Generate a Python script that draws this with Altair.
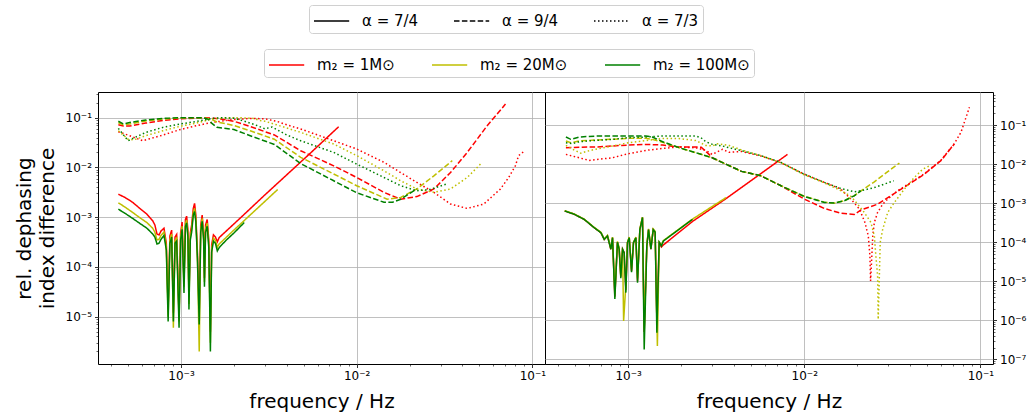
import altair as alt
import pandas as pd

ALPHAS = ["α = 7/4", "α = 9/4", "α = 7/3"]
MASSES = ["m₂ = 1M⊙", "m₂ = 20M⊙", "m₂ = 100M⊙"]
COLORS = ["#ff0000", "#bfbf00", "#008000"]
DASHES = [[1, 0], [5.5, 2.4], [1.5, 2.5]]

# ---------------- left panel ----------------
L_sol_red_f = [4.4e-4, 4.8e-4, 5.3e-4, 5.9e-4, 6.4e-4, 6.9e-4, 7.1e-4, 7.3e-4, 7.5e-4, 7.7e-4, 8.0e-4, 8.25e-4,
               8.45e-4, 8.65e-4, 8.85e-4, 9.05e-4, 9.25e-4, 9.45e-4, 9.75e-4, 9.95e-4, 1.015e-3, 1.04e-3, 1.06e-3,
               1.077e-3, 1.095e-3, 1.11e-3, 1.13e-3, 1.15e-3, 1.175e-3, 1.195e-3, 1.215e-3, 1.24e-3, 1.27e-3,
               1.295e-3, 1.32e-3, 1.345e-3, 1.36e-3, 1.38e-3, 1.41e-3, 1.44e-3, 1.47e-3, 1.495e-3, 1.53e-3, 1.57e-3,
               1.61e-3, 1.65e-3, 2.2e-3, 3.0e-3, 5.5e-3, 7.9e-3]
L_sol_red_y = [2.9e-3, 2.5e-3, 2.0e-3, 1.45e-3, 1.15e-3, 8.5e-4, 7.0e-4, 4.6e-4, 4.4e-4, 5.3e-4, 6.0e-4, 3.0e-4,
               1.5e-5, 4.2e-4, 5.5e-4, 1.2e-5, 4.0e-4, 4.5e-4, 1.0e-5, 4.8e-4, 8.0e-4, 5e-5, 9.0e-4,
               1.05e-3, 5.5e-4, 2.5e-5, 4.8e-4, 7.0e-4, 1.5e-3, 1.9e-3, 1.1e-3, 2.0e-4, 1.2e-5,
               7.0e-4, 1.1e-3, 4.8e-4, 6e-5, 7.0e-4, 9.0e-4, 3.4e-4, 5e-6, 2.8e-4, 4.4e-4, 4.0e-4,
               3.2e-4, 3.9e-4, 1.0e-3, 2.8e-3, 0.02, 0.066]

L_sol_yel_f = [4.4e-4, 4.8e-4, 5.3e-4, 5.9e-4, 6.4e-4, 6.9e-4, 7.1e-4, 7.3e-4, 7.5e-4, 7.7e-4, 8.0e-4, 8.25e-4,
               8.45e-4, 8.65e-4, 8.85e-4, 9.05e-4, 9.25e-4, 9.45e-4, 9.75e-4, 9.95e-4, 1.015e-3, 1.04e-3, 1.06e-3,
               1.077e-3, 1.095e-3, 1.11e-3, 1.13e-3, 1.15e-3, 1.175e-3, 1.195e-3, 1.215e-3, 1.24e-3, 1.27e-3,
               1.295e-3, 1.32e-3, 1.345e-3, 1.36e-3, 1.38e-3, 1.41e-3, 1.44e-3, 1.47e-3, 1.495e-3, 1.53e-3, 1.57e-3,
               1.61e-3, 1.65e-3, 2.0e-3, 2.6e-3, 3.55e-3]
L_sol_yel_y = [1.95e-3, 1.6e-3, 1.25e-3, 9.5e-4, 7.8e-4, 6.0e-4, 5.0e-4, 3.5e-4, 3.6e-4, 4.3e-4, 5.0e-4, 2.6e-4,
               1.0e-5, 3.5e-4, 4.6e-4, 6e-6, 3.4e-4, 3.8e-4, 8e-6, 4.0e-4, 6.6e-4, 4e-5, 7.5e-4,
               8.8e-4, 4.6e-4, 1.8e-5, 4.0e-4, 5.8e-4, 1.25e-3, 1.5e-3, 9.0e-4, 1.7e-4, 2e-6,
               5.8e-4, 9.5e-4, 4.0e-4, 5e-5, 5.8e-4, 7.6e-4, 2.8e-4, 3e-6, 2.3e-4, 3.8e-4, 3.4e-4,
               2.5e-4, 2.9e-4, 5.5e-4, 1.3e-3, 3.6e-3]

L_sol_grn_f = [4.4e-4, 4.8e-4, 5.3e-4, 5.9e-4, 6.4e-4, 6.9e-4, 7.1e-4, 7.3e-4, 7.5e-4, 7.7e-4, 8.0e-4, 8.25e-4,
               8.45e-4, 8.65e-4, 8.85e-4, 9.05e-4, 9.25e-4, 9.45e-4, 9.75e-4, 9.95e-4, 1.015e-3, 1.04e-3, 1.06e-3,
               1.077e-3, 1.095e-3, 1.11e-3, 1.13e-3, 1.15e-3, 1.175e-3, 1.195e-3, 1.215e-3, 1.24e-3, 1.27e-3,
               1.295e-3, 1.32e-3, 1.345e-3, 1.36e-3, 1.38e-3, 1.41e-3, 1.44e-3, 1.47e-3, 1.495e-3, 1.53e-3, 1.57e-3,
               1.61e-3, 1.65e-3, 1.8e-3, 2.0e-3, 2.29e-3]
L_sol_grn_y = [1.45e-3, 1.2e-3, 9.5e-4, 7.3e-4, 6.0e-4, 4.6e-4, 4.0e-4, 2.9e-4, 3.0e-4, 3.6e-4, 4.3e-4, 2.2e-4,
               8e-6, 3.0e-4, 4.0e-4, 8e-6, 3.0e-4, 3.3e-4, 6e-6, 3.5e-4, 5.7e-4, 3e-5, 6.5e-4,
               7.7e-4, 4.0e-4, 1.4e-5, 3.5e-4, 5.0e-4, 1.1e-3, 1.3e-3, 8.0e-4, 1.5e-4, 7e-6,
               5.0e-4, 8.3e-4, 3.5e-4, 4e-5, 5.0e-4, 6.6e-4, 2.4e-4, 2e-6, 2.0e-4, 3.3e-4, 3.0e-4,
               2.1e-4, 2.45e-4, 3.4e-4, 4.8e-4, 7.8e-4]

L_dash_red_f = [4.4e-4, 4.7e-4, 5.1e-4, 6.3e-4, 7.9e-4, 1.0e-3, 1.33e-3, 1.6e-3, 2.0e-3, 2.5e-3, 3.4e-3, 4.8e-3,
                7.4e-3, 1.0e-2, 1.43e-2, 1.78e-2, 2.2e-2, 2.75e-2, 3.42e-2, 4.26e-2, 5.53e-2, 7.03e-2]
L_dash_red_y = [0.072, 0.068, 0.068, 0.078, 0.088, 0.095, 0.1, 0.097, 0.085, 0.066, 0.045, 0.0217,
                0.0108, 6.3e-3, 3.16e-3, 2.3e-3, 2.6e-3, 3.7e-3, 7.9e-3, 0.0201, 0.069, 0.188]
L_dash_yel_f = [4.4e-4, 4.7e-4, 5.1e-4, 6.3e-4, 7.9e-4, 1.0e-3, 1.33e-3, 1.5e-3, 1.6e-3, 2.0e-3, 2.5e-3, 3.4e-3,
                4.8e-3, 7.4e-3, 1.0e-2, 1.49e-2, 1.78e-2, 2.2e-2, 2.75e-2, 3.5e-2]
L_dash_yel_y = [0.079, 0.072, 0.075, 0.086, 0.094, 0.099, 0.1, 0.092, 0.082, 0.07, 0.054, 0.037,
                0.016, 7.4e-3, 4.3e-3, 2.3e-3, 2.5e-3, 3.7e-3, 6.8e-3, 0.0137]
L_dash_grn_f = [4.4e-4, 4.7e-4, 5.1e-4, 6.3e-4, 7.9e-4, 1.0e-3, 1.33e-3, 1.42e-3, 1.5e-3, 1.6e-3, 2.0e-3, 2.5e-3,
                3.4e-3, 4.8e-3, 7.4e-3, 1.0e-2, 1.43e-2, 1.6e-2, 1.78e-2, 2.2e-2]
L_dash_grn_y = [0.085, 0.075, 0.08, 0.09, 0.097, 0.1, 0.1, 0.094, 0.077, 0.064, 0.058, 0.043,
                0.029, 0.012, 5.4e-3, 3.1e-3, 2.0e-3, 2.0e-3, 2.3e-3, 3.7e-3]

L_dot_red_f = [4.4e-4, 5.1e-4, 6.05e-4, 7.9e-4, 9.8e-4, 1.22e-3, 1.5e-3, 2.0e-3, 2.5e-3, 3.0e-3, 3.5e-3, 4.0e-3,
               4.8e-3, 7.4e-3, 1.0e-2, 1.43e-2, 1.78e-2, 2.2e-2, 2.75e-2, 3.42e-2, 4.26e-2, 5.29e-2, 6.58e-2,
               7.33e-2, 8.0e-2, 8.35e-2, 8.91e-2]
L_dot_red_y = [0.0524, 0.0435, 0.0345, 0.0448, 0.0573, 0.069, 0.0805, 0.092, 0.097, 0.095, 0.085, 0.072,
               0.0593, 0.0345, 0.0235, 0.0127, 7.9e-3, 5.0e-3, 3.16e-3, 1.84e-3, 1.5e-3, 1.84e-3, 3.7e-3,
               6.3e-3, 0.0108, 0.0173, 0.0207]
L_dot_yel_f = [4.4e-4, 5.0e-4, 5.4e-4, 6.3e-4, 7.9e-4, 9.8e-4, 1.22e-3, 1.5e-3, 1.8e-3, 2.2e-3, 2.6e-3, 2.8e-3,
               3.0e-3, 3.5e-3, 4.8e-3, 7.4e-3, 1.0e-2, 1.43e-2, 1.78e-2, 2.2e-2, 2.75e-2, 3.42e-2, 4.26e-2, 5.17e-2]
L_dot_yel_y = [0.0548, 0.037, 0.036, 0.0435, 0.0548, 0.0668, 0.078, 0.094, 0.099, 0.1, 0.097, 0.088,
               0.085, 0.072, 0.0508, 0.0296, 0.0173, 8.6e-3, 5.4e-3, 3.7e-3, 3.16e-3, 3.7e-3, 6.3e-3, 0.0126]
L_dot_grn_f = [4.4e-4, 5.0e-4, 6.3e-4, 7.9e-4, 9.8e-4, 1.22e-3, 1.5e-3, 1.7e-3, 2.0e-3, 2.3e-3, 2.7e-3, 3.0e-3,
               3.3e-3, 4.0e-3, 4.8e-3, 7.4e-3, 1.0e-2, 1.43e-2, 1.78e-2, 2.2e-2, 2.6e-2, 3.27e-2]
L_dot_grn_y = [0.061, 0.0345, 0.0507, 0.064, 0.0745, 0.084, 0.097, 0.1, 0.098, 0.085, 0.07, 0.06,
               0.065, 0.045, 0.0345, 0.0201, 0.0117, 6.3e-3, 4.3e-3, 3.4e-3, 3.6e-3, 4.7e-3]

# ---------------- right panel ----------------
R_sol_red_f = [4.36e-4, 4.93e-4, 5.62e-4, 6.41e-4, 7.0e-4, 7.31e-4, 7.63e-4, 7.97e-4, 8.15e-4, 8.40e-4, 8.69e-4,
               8.89e-4, 9.08e-4, 9.29e-4, 9.49e-4, 9.70e-4, 9.91e-4, 1.014e-3, 1.045e-3, 1.072e-3, 1.106e-3,
               1.13e-3, 1.165e-3, 1.206e-3, 1.233e-3, 1.276e-3, 1.305e-3, 1.346e-3, 1.387e-3, 1.423e-3, 1.455e-3,
               1.50e-3, 1.545e-3, 1.585e-3, 2.32e-3, 3.59e-3, 5.43e-3, 8.03e-3]
R_sol_red_y = [6.3e-4, 5.2e-4, 3.85e-4, 2.35e-4, 1.75e-4, 1.18e-4, 1.44e-4, 6.6e-5, 1.3e-4, 4e-6, 1.0e-4,
               6.6e-5, 1.3e-5, 6.6e-5, 5.4e-5, 6e-6, 9.7e-5, 1.3e-4, 1.8e-5, 9.7e-5, 1.3e-4,
               1.0e-5, 2.1e-4, 4.3e-4, 5e-7, 8.0e-5, 2.1e-4, 6.6e-5, 2.1e-4, 1.8e-4, 1e-6,
               9.5e-5, 7.5e-5, 8.5e-5, 3.4e-4, 1.3e-3, 4.95e-3, 0.0177]
R_sol_yel_f = [4.36e-4, 4.93e-4, 5.62e-4, 6.41e-4, 7.0e-4, 7.31e-4, 7.63e-4, 7.97e-4, 8.15e-4, 8.40e-4, 8.69e-4,
               8.89e-4, 9.08e-4, 9.29e-4, 9.42e-4, 9.70e-4, 9.91e-4, 1.014e-3, 1.045e-3, 1.072e-3, 1.106e-3,
               1.13e-3, 1.165e-3, 1.206e-3, 1.233e-3, 1.276e-3, 1.305e-3, 1.346e-3, 1.387e-3, 1.423e-3, 1.465e-3,
               1.50e-3, 1.545e-3, 1.585e-3, 2.32e-3, 3.59e-3]
R_sol_yel_y = [6.4e-4, 5.3e-4, 3.9e-4, 2.4e-4, 1.8e-4, 1.2e-4, 1.5e-4, 7.0e-5, 1.35e-4, 5e-6, 1.05e-4,
               7.0e-5, 1.4e-5, 7.0e-5, 9.6e-7, 8e-6, 1.0e-4, 1.35e-4, 2.0e-5, 1.0e-4, 1.35e-4,
               1.2e-5, 2.2e-4, 4.4e-4, 6e-7, 8.5e-5, 2.2e-4, 7.0e-5, 2.2e-4, 1.9e-4, 2.2e-7,
               1.0e-4, 8.5e-5, 1.1e-4, 3.9e-4, 1.38e-3]
R_sol_grn_f = [4.36e-4, 4.93e-4, 5.62e-4, 6.41e-4, 7.0e-4, 7.31e-4, 7.63e-4, 7.97e-4, 8.15e-4, 8.40e-4, 8.69e-4,
               8.89e-4, 9.08e-4, 9.29e-4, 9.49e-4, 9.70e-4, 9.91e-4, 1.014e-3, 1.045e-3, 1.072e-3, 1.106e-3,
               1.13e-3, 1.165e-3, 1.206e-3, 1.233e-3, 1.276e-3, 1.305e-3, 1.346e-3, 1.387e-3, 1.423e-3, 1.455e-3,
               1.50e-3, 1.545e-3, 1.585e-3, 2.32e-3]
R_sol_grn_y = [6.3e-4, 5.2e-4, 3.85e-4, 2.35e-4, 1.75e-4, 1.18e-4, 1.44e-4, 6.6e-5, 1.3e-4, 3.5e-6, 1.0e-4,
               6.6e-5, 1.2e-5, 6.6e-5, 5.4e-5, 5.1e-6, 9.7e-5, 1.3e-4, 1.7e-5, 9.7e-5, 1.3e-4,
               9.2e-6, 2.1e-4, 4.3e-4, 1.8e-7, 8.0e-5, 2.1e-4, 6.6e-5, 2.1e-4, 1.8e-4, 4.8e-7,
               1.0e-4, 8.0e-5, 1.07e-4, 3.85e-4]

R_dash_red_f = [4.43e-4, 5.27e-4, 6.55e-4, 1.0e-3, 1.26e-3, 1.57e-3, 1.95e-3, 2.43e-3, 2.6e-3, 2.88e-3, 3.0e-3,
                4.4e-3, 5.68e-3, 7.38e-3, 1.0e-2, 1.3e-2, 1.61e-2, 1.92e-2, 2.1e-2, 2.61e-2, 3.1e-2, 3.86e-2,
                4.8e-2, 5.97e-2, 7.11e-2]
R_dash_red_y = [0.0262, 0.027, 0.0273, 0.0307, 0.0319, 0.0307, 0.0273, 0.0273, 0.027, 0.0177, 0.0145,
                6.5e-3, 5.0e-3, 2.78e-3, 1.27e-3, 7.3e-4, 5.5e-4, 5.1e-4, 6.7e-4, 9.4e-4, 1.54e-3, 2.9e-3,
                5.5e-3, 0.0122, 0.0326]
R_dash_yel_f = [4.43e-4, 4.72e-4, 5.27e-4, 6.55e-4, 1.0e-3, 1.26e-3, 1.37e-3, 1.57e-3, 1.95e-3, 2.43e-3, 3.0e-3,
                4.4e-3, 5.68e-3, 7.38e-3, 1.0e-2, 1.3e-2, 1.48e-2, 1.69e-2, 1.92e-2, 2.1e-2, 2.5e-2, 2.98e-2, 3.47e-2]
R_dash_yel_y = [0.039, 0.0352, 0.039, 0.0412, 0.0455, 0.0455, 0.0428, 0.036, 0.0262, 0.0195, 0.0145,
                6.5e-3, 5.0e-3, 2.78e-3, 1.5e-3, 1.06e-3, 1.0e-3, 1.15e-3, 1.54e-3, 2.07e-3, 3.5e-3, 6.4e-3, 0.0106]
R_dash_grn_f = [4.43e-4, 4.72e-4, 5.27e-4, 6.55e-4, 1.0e-3, 1.26e-3, 1.37e-3, 1.57e-3, 1.95e-3, 2.43e-3, 3.0e-3,
                4.4e-3, 5.68e-3, 7.38e-3, 1.0e-2, 1.3e-2, 1.48e-2, 1.69e-2, 1.92e-2, 2.1e-2]
R_dash_grn_y = [0.0492, 0.043, 0.0492, 0.0522, 0.0522, 0.0522, 0.0492, 0.0374, 0.0262, 0.0195, 0.0145,
                6.5e-3, 5.0e-3, 2.78e-3, 1.48e-3, 1.04e-3, 1.0e-3, 1.15e-3, 1.54e-3, 2.07e-3]

R_dot_red_f = [4.43e-4, 4.83e-4, 5.27e-4, 6.0e-4, 6.55e-4, 8.15e-4, 1.0e-3, 1.26e-3, 1.57e-3, 1.95e-3, 2.42e-3,
               2.76e-3, 3.0e-3, 3.43e-3, 3.74e-3, 4.4e-3, 5.68e-3, 7.38e-3, 1.0e-2, 1.3e-2, 1.61e-2, 1.84e-2,
               2.06e-2, 2.21e-2, 2.31e-2, 2.36e-2, 2.38e-2, 2.42e-2, 2.45e-2, 2.5e-2, 2.61e-2, 2.79e-2, 2.98e-2,
               3.4e-2, 3.86e-2, 4.8e-2, 5.97e-2, 7.11e-2, 7.76e-2, 8.67e-2]
R_dot_red_y = [0.0177, 0.016, 0.0145, 0.0124, 0.013, 0.0145, 0.0184, 0.0224, 0.0252, 0.0273, 0.0262,
               0.0224, 0.0177, 0.0238, 0.02, 0.021, 0.016, 0.0108, 5.5e-3, 3.4e-3, 2.3e-3, 1.27e-3,
               7.0e-4, 3.2e-4, 1.45e-4, 4.5e-5, 1.02e-5, 4.5e-5, 1.45e-4, 3.2e-4, 5.8e-4, 9.4e-4, 1.27e-3,
               2.1e-3, 3.0e-3, 5.6e-3, 0.0125, 0.033, 0.065, 0.284]
R_dot_yel_f = [4.43e-4, 4.83e-4, 5.38e-4, 6.0e-4, 6.55e-4, 8.15e-4, 1.0e-3, 1.26e-3, 1.57e-3, 1.95e-3, 2.42e-3,
               2.76e-3, 3.01e-3, 3.2e-3, 3.74e-3, 4.4e-3, 5.68e-3, 7.38e-3, 1.0e-2, 1.3e-2, 1.61e-2, 1.84e-2,
               2.01e-2, 2.19e-2, 2.39e-2, 2.5e-2, 2.55e-2, 2.61e-2, 2.63e-2, 2.67e-2, 2.7e-2, 2.79e-2, 2.98e-2,
               3.25e-2, 3.7e-2, 4.22e-2, 4.71e-2, 5.25e-2]
R_dot_yel_y = [0.03, 0.024, 0.019, 0.022, 0.024, 0.029, 0.035, 0.04, 0.045, 0.045, 0.04,
               0.03, 0.029, 0.033, 0.03, 0.023, 0.0164, 0.0108, 5.3e-3, 3.3e-3, 2.1e-3, 1.5e-3,
               9.4e-4, 5.8e-4, 3.2e-4, 1.45e-4, 4.5e-5, 1.37e-5, 1.06e-6, 1.37e-5, 9.8e-5, 2.15e-4, 5.8e-4,
               1.04e-3, 2.28e-3, 4.55e-3, 7.4e-3, 9.4e-3]
R_dot_grn_f = [4.43e-4, 4.83e-4, 5.27e-4, 6.55e-4, 8.15e-4, 1.0e-3, 1.26e-3, 1.57e-3, 1.95e-3, 2.42e-3, 2.59e-3,
               2.76e-3, 3.01e-3, 3.43e-3, 3.74e-3, 4.4e-3, 5.68e-3, 7.38e-3, 1.0e-2, 1.3e-2, 1.61e-2, 1.92e-2,
               2.1e-2, 2.5e-2, 2.85e-2, 3.22e-2]
R_dot_grn_y = [0.0352, 0.0332, 0.0374, 0.0404, 0.0428, 0.0473, 0.0492, 0.0522, 0.0522, 0.0522, 0.0473,
               0.0374, 0.0319, 0.029, 0.0262, 0.022, 0.0164, 0.011, 5.5e-3, 3.4e-3, 2.38e-3, 1.95e-3,
               2.07e-3, 2.5e-3, 3.07e-3, 3.74e-3]

X_DOMAIN = [3.37e-4, 0.118]
YL_DOMAIN = [1.12e-6, 0.329]
YR_DOMAIN = [7.6e-8, 0.70]


def build(series):
    rows = []
    for k, (a, m, fs, ys) in enumerate(series):
        for f, y in zip(fs, ys):
            rows.append({"f": f, "y": y, "alpha": ALPHAS[a], "mass": MASSES[m], "series": "s%02d" % k})
    return pd.DataFrame(rows)


left_df = build([
    (0, 0, L_sol_red_f, L_sol_red_y), (1, 0, L_dash_red_f, L_dash_red_y), (2, 0, L_dot_red_f, L_dot_red_y),
    (0, 1, L_sol_yel_f, L_sol_yel_y), (1, 1, L_dash_yel_f, L_dash_yel_y), (2, 1, L_dot_yel_f, L_dot_yel_y),
    (0, 2, L_sol_grn_f, L_sol_grn_y), (1, 2, L_dash_grn_f, L_dash_grn_y), (2, 2, L_dot_grn_f, L_dot_grn_y),
])
right_df = build([
    (0, 0, R_sol_red_f, R_sol_red_y), (1, 0, R_dash_red_f, R_dash_red_y), (2, 0, R_dot_red_f, R_dot_red_y),
    (0, 1, R_sol_yel_f, R_sol_yel_y), (1, 1, R_dash_yel_f, R_dash_yel_y), (2, 1, R_dot_yel_f, R_dot_yel_y),
    (0, 2, R_sol_grn_f, R_sol_grn_y), (1, 2, R_dash_grn_f, R_dash_grn_y), (2, 2, R_dot_grn_f, R_dot_grn_y),
])


def log_ticks(lo, hi):
    return [m * 10.0 ** e for e in range(-8, 1) for m in range(1, 10) if lo <= m * 10.0 ** e <= hi]


LOGV = "log(datum.value)/LN10"
DECADE = "abs(%s - round(%s)) < 0.001" % (LOGV, LOGV)
LABEL = ("%s ? '10⁻' + substring('⁰¹²³⁴⁵⁶⁷⁸⁹', -round(%s), -round(%s) + 1) : ''"
         % (DECADE, LOGV, LOGV))


def axis(values, orient, title=None, **kw):
    return alt.Axis(
        values=values, orient=orient, title=title, labelExpr=LABEL,
        labelFontSize=12, labelColor="black", labelFont="DejaVu Sans",
        tickSize={"condition": {"test": DECADE, "value": 3.5}, "value": 2},
        tickWidth={"condition": {"test": DECADE, "value": 0.8}, "value": 0.6},
        tickColor="black", domain=False,
        grid=True, gridColor="#b0b0b0", gridWidth=0.8,
        gridOpacity={"condition": {"test": DECADE, "value": 1}, "value": 0},
        labelOverlap=False, labelPadding=3,
        titleFontSize=20, titleFontWeight="normal", titleColor="black", titleFont="DejaVu Sans",
        **kw,
    )


color = alt.Color(
    "mass:N",
    scale=alt.Scale(domain=MASSES, range=COLORS),
    legend=alt.Legend(
        title=None, orient="none", legendX=166, legendY=-43, direction="horizontal", columns=3,
        symbolType="M-1,0H2.2", symbolSize=484, symbolStrokeWidth=1.5,
        labelFontSize=15, labelFont="DejaVu Sans", labelColor="black", labelOffset=25,
        columnPadding=34, padding=4, strokeColor="#d0d0d0", cornerRadius=3, fillColor="white",
    ),
)
dash = alt.StrokeDash(
    "alpha:N",
    scale=alt.Scale(domain=ALPHAS, range=DASHES),
    legend=alt.Legend(
        title=None, orient="none", legendX=211, legendY=-87, direction="horizontal", columns=3,
        symbolType="M-1,0H2.2", symbolSize=484, symbolStrokeWidth=1.5, symbolStrokeColor="black",
        labelFontSize=15, labelFont="DejaVu Sans", labelColor="black", labelOffset=25,
        columnPadding=32, padding=4, strokeColor="#d0d0d0", cornerRadius=3, fillColor="white",
    ),
)

x_enc = alt.X("f:Q", scale=alt.Scale(type="log", domain=X_DOMAIN, nice=False),
              axis=axis(log_ticks(*X_DOMAIN), "bottom", "frequency / Hz", titlePadding=10))

left = alt.Chart(left_df).mark_line(strokeWidth=1.5, clip=True).encode(
    x=x_enc,
    y=alt.Y("y:Q", scale=alt.Scale(type="log", domain=YL_DOMAIN, nice=False),
            axis=axis(log_ticks(*YL_DOMAIN), "left", ["rel. dephasing", "index difference"],
                      titleLineHeight=23, titlePadding=8)),
    color=color, strokeDash=dash, detail="series:N",
).properties(width=447, height=272)

right = alt.Chart(right_df).mark_line(strokeWidth=1.5, clip=True).encode(
    x=x_enc,
    y=alt.Y("y:Q", scale=alt.Scale(type="log", domain=YR_DOMAIN, nice=False),
            axis=axis(log_ticks(*YR_DOMAIN), "right")),
    color=color, strokeDash=dash, detail="series:N",
).properties(width=448, height=272)

chart = alt.hconcat(left, right, spacing=0, bounds="flush").resolve_scale(
    x="independent", y="independent"
).properties(
    padding={"left": 13, "top": 4, "right": 5, "bottom": 5}
).configure(font="DejaVu Sans").configure_view(stroke="black", strokeWidth=1)

chart.save("out.html", embed_options={"renderer": "svg", "actions": False})
